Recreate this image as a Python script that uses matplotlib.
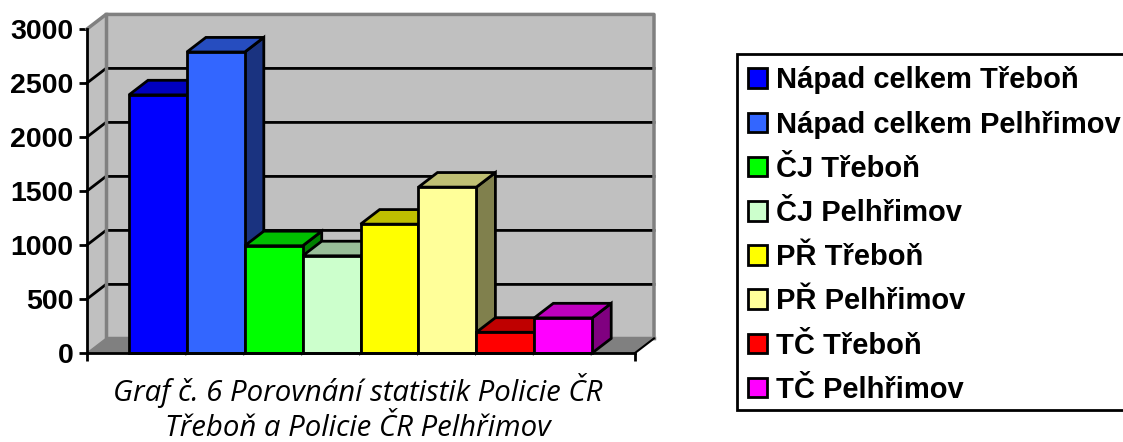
import matplotlib
matplotlib.use("Agg")
import matplotlib.pyplot as plt
from matplotlib.patches import Patch, Rectangle

labels = ["Nápad celkem Třeboň", "Nápad celkem Pelhřimov", "ČJ Třeboň", "ČJ Pelhřimov",
          "PŘ Třeboň", "PŘ Pelhřimov", "TČ Třeboň", "TČ Pelhřimov"]
values = [2390, 2787, 993, 900, 1193, 1536, 192, 325]
front_colors = ["#0000FF", "#3366FF", "#00FF00", "#CCFFCC", "#FFFF00", "#FFFF99", "#FF0000", "#FF00FF"]
top_colors = ["#0000BF", "#264DBF", "#00BF00", "#99BF99", "#BFBF00", "#BFBF73", "#BF0000", "#BF00BF"]
side_colors = ["#000080", "#1A3380", "#008000", "#668066", "#808000", "#80804D", "#800000", "#800080"]
yticks = [0, 500, 1000, 1500, 2000, 2500, 3000]
caption = "Graf č. 6 Porovnání statistik Policie ČR\nTřeboň a Policie ČR Pelhřimov"

W, H = 1123, 442
fig = plt.figure(figsize=(W / 100, H / 100), dpi=100)
ax = fig.add_axes([87 / W, 1 - 353 / H, 548 / W, 324 / H])

xmax = 548 / 57.9
dx = 19 / 57.9   # depth of the fake 3D box
dy = 135
start = 42 / 57.9
lw = 2
ax.set_xlim(0, xmax)
ax.set_ylim(0, 3000)

# walls and floor
ax.fill([0, dx, dx, 0], [0, dy, 3000 + dy, 3000], fc="#C0C0C0", ec="none", clip_on=False, zorder=1)
ax.fill([dx, xmax + dx, xmax + dx, dx], [dy, dy, 3000 + dy, 3000 + dy], fc="#C0C0C0", ec="none", clip_on=False, zorder=1)
ax.fill([0, xmax, xmax + dx, dx], [0, 0, dy, dy], fc="#808080", ec="none", clip_on=False, zorder=1)

for v in yticks[1:-1]:
    ax.plot([0, dx, xmax + dx], [v, v + dy, v + dy], color="black", lw=lw, clip_on=False, zorder=2)
ax.plot([0, dx, xmax + dx, xmax + dx], [3000, 3000 + dy, 3000 + dy, dy], color="#808080", lw=2.5, clip_on=False, zorder=2)
ax.plot([0, dx, xmax], [0, dy, dy], color="#808080", lw=1, clip_on=False, zorder=2)
ax.plot([dx, dx, xmax + dx], [3000 + dy, dy, dy], color="#808080", lw=2.5, clip_on=False, zorder=2)
ax.plot([xmax, xmax + dx], [0, dy], color="black", lw=1.5, clip_on=False, zorder=2)

# bars, left to right so the next one hides what it should
for i, v in enumerate(values):
    x0 = start + i
    z = 3 + i
    ax.fill([x0 + 1, x0 + 1 + dx, x0 + 1 + dx, x0 + 1], [0, dy, v + dy, v],
            fc=side_colors[i], ec="black", lw=lw, clip_on=False, zorder=z)
    ax.fill([x0, x0 + dx, x0 + 1 + dx, x0 + 1], [v, v + dy, v + dy, v],
            fc=top_colors[i], ec="black", lw=lw, clip_on=False, zorder=z)
    ax.bar(x0, v, width=1, align="edge", color=front_colors[i], edgecolor="black", lw=lw, clip_on=False, zorder=z)

for s in ["top", "right"]:
    ax.spines[s].set_visible(False)
for s in ["left", "bottom"]:
    ax.spines[s].set_linewidth(lw)
    ax.spines[s].set_zorder(20)

ax.set_yticks(yticks)
ax.set_xticks([0, xmax])
ax.set_xticklabels([])
ax.patch.set_visible(False)
ax.tick_params(length=5.8, width=lw, pad=4)
for t in ax.get_yticklabels():
    t.set_fontfamily("Liberation Sans")
    t.set_fontweight("bold")
    t.set_fontsize(20.5)

# legend frame runs off the right edge like in the original
fig.add_artist(Rectangle((737 / W, 1 - 410 / H), 400 / W, 356 / H, transform=fig.transFigure,
                         fc="white", ec="black", lw=lw))
handles = [Patch(fc=c, ec="black", lw=lw) for c in front_colors]
leg = fig.legend(handles, labels, loc="upper left", bbox_to_anchor=(737 / W, 1 - 56 / H),
                 borderaxespad=0, frameon=False,
                 prop={"family": "Liberation Sans", "weight": "bold", "size": 21},
                 handlelength=0.66, handleheight=0.66, handletextpad=0.3,
                 borderpad=0.36, labelspacing=0.555)

fig.text(358 / W, 1 - 408 / H, caption, ha="center", va="center", family="Open Sans", style="italic",
         fontsize=21.2, linespacing=1.3)

fig.savefig("out.png", dpi=100)
